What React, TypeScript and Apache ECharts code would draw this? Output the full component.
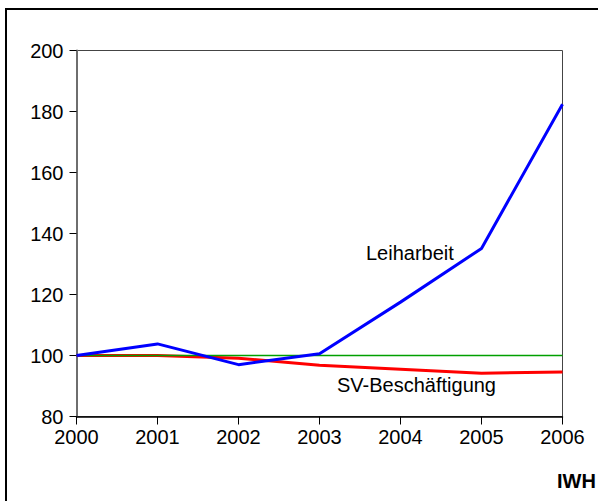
import React, { useEffect, useRef } from "react";
import * as echarts from "echarts";

const years = ["2000", "2001", "2002", "2003", "2004", "2005", "2006"];
const leiharbeit = [100, 103.8, 97.0, 100.6, 117.5, 135.1, 182.4];
const svBeschaeftigung = [100, 100, 99.1, 96.8, 95.5, 94.2, 94.6];
const basis = [100, 100, 100, 100, 100, 100, 100];
const yTicks = { min: 80, max: 200, interval: 20 };

export default function App() {
  const ref = useRef<HTMLDivElement>(null);
  useEffect(() => {
    if (!ref.current) return;
    const chart = echarts.init(ref.current, undefined, { renderer: "svg" });
    const font = "'Liberation Sans', Arial, sans-serif";
    chart.setOption({
      animation: false,
      backgroundColor: "#fff",
      grid: {
        left: 76.5,
        top: 50.5,
        right: 35.5,
        bottom: 84.5,
        show: true,
        borderColor: "#444",
        borderWidth: 1,
      },
      xAxis: {
        type: "category",
        data: years,
        boundaryGap: false,
        axisLine: { lineStyle: { color: "#000", width: 1.5 } },
        axisTick: { length: 8, lineStyle: { color: "#000", width: 1 } },
        axisLabel: { color: "#000", fontSize: 20, fontFamily: font, margin: 10 },
        splitLine: { show: false },
      },
      yAxis: {
        type: "value",
        min: yTicks.min,
        max: yTicks.max,
        interval: yTicks.interval,
        axisLine: { show: true, lineStyle: { color: "#6e6e6e", width: 2 } },
        axisTick: { show: true, length: 7, lineStyle: { color: "#000", width: 1 } },
        axisLabel: { color: "#000", fontSize: 20, fontFamily: font, margin: 13 },
        splitLine: { show: false },
      },
      series: [
        {
          name: "SV-Beschäftigung",
          type: "line",
          data: svBeschaeftigung,
          showSymbol: false,
          lineStyle: { color: "#ff0000", width: 3 },
          z: 2,
        },
        {
          name: "Basis",
          type: "line",
          data: basis,
          showSymbol: false,
          lineStyle: { color: "#00a000", width: 1.5 },
          z: 3,
        },
        {
          name: "Leiharbeit",
          type: "line",
          data: leiharbeit,
          showSymbol: false,
          lineStyle: { color: "#0000ff", width: 3 },
          z: 4,
        },
      ],
      graphic: [
        {
          type: "rect",
          shape: { x: 6, y: 9, width: 700, height: 600 },
          style: { fill: "none", stroke: "#000", lineWidth: 2 },
          silent: true,
        },
        {
          type: "text",
          x: 366,
          y: 253,
          style: {
            text: "Leiharbeit",
            fontSize: 20,
            fontFamily: font,
            fill: "#000",
            verticalAlign: "middle",
            align: "left",
          },
        },
        {
          type: "text",
          x: 337,
          y: 385,
          style: {
            text: "SV-Beschäftigung",
            fontSize: 20,
            fontFamily: font,
            fill: "#000",
            verticalAlign: "middle",
            align: "left",
          },
        },
        {
          type: "text",
          x: 557,
          y: 481,
          style: {
            text: "IWH",
            fontSize: 20,
            fontWeight: "bold",
            fontFamily: font,
            fill: "#000",
            verticalAlign: "middle",
            align: "left",
          },
        },
      ],
    });
    return () => chart.dispose();
  }, []);
  return (
    <div
      ref={ref}
      style={{ position: "fixed", left: 0, top: 0, width: 598, height: 501 }}
    />
  );
}
